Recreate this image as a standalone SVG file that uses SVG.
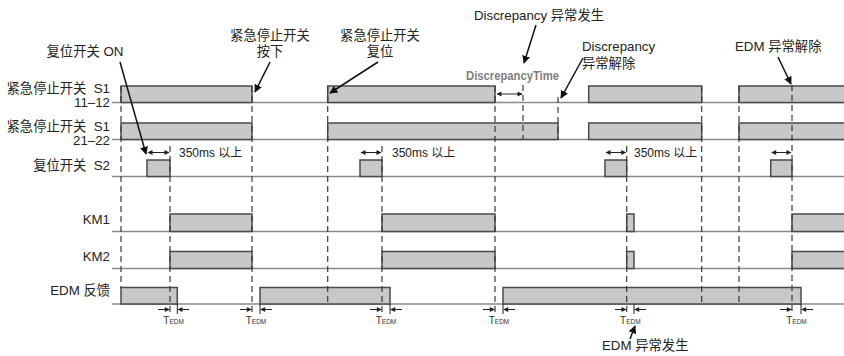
<svg xmlns="http://www.w3.org/2000/svg" width="844" height="356" viewBox="0 0 844 356">
<defs>
<style>
text{font-family:"Liberation Sans","Noto Sans CJK SC",sans-serif;fill:#222;}
.lb{font-size:13.3px;}
.sm{font-size:12px;}
.base{stroke:#8a8a8a;stroke-width:1.4;fill:none;}
.p{fill:#c8c8c8;stroke:#4a4a4a;stroke-width:1.5;}
.d{stroke:#3a3a3a;stroke-width:1.2;stroke-dasharray:6 4;fill:none;}
.a{stroke:#111;stroke-width:1.5;fill:none;marker-end:url(#ah);}
.s{stroke:#222;stroke-width:1;fill:none;}
.sa{stroke:#222;stroke-width:1;fill:none;marker-end:url(#sh);}
.sb{stroke:#222;stroke-width:1;fill:none;marker-start:url(#shs);marker-end:url(#sh);}
.t{font-size:10px;fill:#333;}
</style>
<marker id="ah" viewBox="0 0 10 10" refX="9" refY="5" markerWidth="8" markerHeight="8" markerUnits="userSpaceOnUse" orient="auto"><path d="M0,0 L10,5 L0,10 Z" fill="#111"/></marker>
<marker id="sh" viewBox="0 0 10 10" refX="9" refY="5" markerWidth="6" markerHeight="5" markerUnits="userSpaceOnUse" orient="auto"><path d="M0,0 L10,5 L0,10 Z" fill="#222"/></marker>
<marker id="shs" viewBox="0 0 10 10" refX="1" refY="5" markerWidth="6" markerHeight="5" markerUnits="userSpaceOnUse" orient="auto"><path d="M10,0 L0,5 L10,10 Z" fill="#222"/></marker>
</defs>
<rect width="844" height="356" fill="#fff"/>

<g id="labels">
<text class="lb" x="110" y="93" text-anchor="end" xml:space="preserve">紧急停止开关  S1</text>
<text class="lb" x="110" y="107" text-anchor="end">11–12</text>
<text class="lb" x="110" y="131" text-anchor="end" xml:space="preserve">紧急停止开关  S1</text>
<text class="lb" x="110" y="145" text-anchor="end">21–22</text>
<text class="lb" x="110" y="170" text-anchor="end" xml:space="preserve">复位开关  S2</text>
<text class="lb" x="110" y="224" text-anchor="end">KM1</text>
<text class="lb" x="110" y="261" text-anchor="end">KM2</text>
<text class="lb" x="110" y="295" text-anchor="end">EDM 反馈</text>
</g>

<g id="baselines">
<line class="base" x1="112" y1="102.5" x2="844" y2="102.5"/>
<line class="base" x1="112" y1="139.5" x2="844" y2="139.5"/>
<line class="base" x1="112" y1="176.5" x2="844" y2="176.5"/>
<line class="base" x1="112" y1="231.5" x2="844" y2="231.5"/>
<line class="base" x1="112" y1="268.5" x2="844" y2="268.5"/>
<line class="base" x1="112" y1="304" x2="844" y2="304"/>
</g>

<g id="s1-11-12">
<path class="p" d="M121 102.5 V86 H252 V102.5 Z"/>
<path class="p" d="M327.7 102.5 V86 H495 V102.5 Z"/>
<path class="p" d="M588.7 102.5 V86 H701.7 V102.5 Z"/>
<path class="p" d="M739 102.5 V86 H850 V102.5 Z"/>
</g>
<g id="s1-21-22">
<path class="p" d="M121 139.5 V123 H252 V139.5 Z"/>
<path class="p" d="M327.7 139.5 V123 H558 V139.5 Z"/>
<path class="p" d="M588.7 139.5 V123 H701.7 V139.5 Z"/>
<path class="p" d="M739 139.5 V123 H850 V139.5 Z"/>
</g>
<g id="s2">
<path class="p" d="M147 176.5 V160 H170 V176.5 Z"/>
<path class="p" d="M360 176.5 V160 H382 V176.5 Z"/>
<path class="p" d="M605 176.5 V160 H626.7 V176.5 Z"/>
<path class="p" d="M770.7 176.5 V160 H792 V176.5 Z"/>
</g>
<g id="km1">
<path class="p" d="M170 231.5 V214 H252 V231.5 Z"/>
<path class="p" d="M382 231.5 V214 H495 V231.5 Z"/>
<path class="p" d="M626.7 231.5 V214 H634 V231.5 Z"/>
<path class="p" d="M792 231.5 V214 H850 V231.5 Z"/>
</g>
<g id="km2">
<path class="p" d="M170 268.5 V251.5 H252 V268.5 Z"/>
<path class="p" d="M382 268.5 V251.5 H495 V268.5 Z"/>
<path class="p" d="M626.7 268.5 V251.5 H634 V268.5 Z"/>
<path class="p" d="M792 268.5 V251.5 H850 V268.5 Z"/>
</g>
<g id="edm">
<path class="p" d="M121 304 V287.5 H177.3 V304 Z"/>
<path class="p" d="M260 304 V287.5 H390 V304 Z"/>
<path class="p" d="M503 304 V287.5 H801 V304 Z"/>
</g>

<g id="connectors">
<line class="d" x1="121" y1="86" x2="121" y2="288"/>
<line class="d" x1="170" y1="146" x2="170" y2="314"/>
<line class="d" x1="252" y1="86" x2="252" y2="314"/>
<line class="d" x1="327.7" y1="86" x2="327.7" y2="304"/>
<line class="d" x1="382" y1="146" x2="382" y2="314"/>
<line class="d" x1="495" y1="86" x2="495" y2="314"/>
<line class="d" x1="523" y1="85" x2="523" y2="139.5"/>
<line class="d" x1="558" y1="97" x2="558" y2="139.5"/>
<line class="d" x1="626.7" y1="146" x2="626.7" y2="314"/>
<line class="d" x1="701.7" y1="86" x2="701.7" y2="304"/>
<line class="d" x1="739" y1="86" x2="739" y2="304"/>
<line class="d" x1="792" y1="85" x2="792" y2="314"/>

<line class="a" x1="120" y1="62" x2="146" y2="154"/>
<line class="a" x1="270" y1="62" x2="255" y2="92"/>
<line class="a" x1="378" y1="62" x2="330" y2="93"/>
<line class="a" x1="536" y1="25" x2="524" y2="63"/>
<line class="a" x1="583" y1="58" x2="561" y2="98"/>
<line class="a" x1="778" y1="57" x2="791" y2="84"/>
<line class="a" x1="630" y1="339" x2="635" y2="326"/>

<line class="sb" x1="148" y1="152.5" x2="169" y2="152.5"/>
<line class="sb" x1="361" y1="152.5" x2="381" y2="152.5"/>
<line class="sb" x1="606" y1="152.5" x2="625.7" y2="152.5"/>
<line class="sb" x1="771.7" y1="152.5" x2="791" y2="152.5"/>

<line class="sb" x1="497" y1="94" x2="522" y2="94"/>

<line class="sa" x1="158" y1="309.5" x2="169.3" y2="309.5"/>
<line class="sa" x1="189" y1="309.5" x2="178" y2="309.5"/>
<line class="s" x1="177.3" y1="304" x2="177.3" y2="314"/>
<line class="sa" x1="240" y1="309.5" x2="251.3" y2="309.5"/>
<line class="sa" x1="272" y1="309.5" x2="260.7" y2="309.5"/>
<line class="s" x1="260" y1="304" x2="260" y2="314"/>
<line class="sa" x1="370" y1="309.5" x2="381.3" y2="309.5"/>
<line class="sa" x1="402" y1="309.5" x2="390.7" y2="309.5"/>
<line class="s" x1="390" y1="304" x2="390" y2="314"/>
<line class="sa" x1="483" y1="309.5" x2="494.3" y2="309.5"/>
<line class="sa" x1="515" y1="309.5" x2="503.7" y2="309.5"/>
<line class="s" x1="503" y1="304" x2="503" y2="314"/>
<line class="sa" x1="615" y1="309.5" x2="626" y2="309.5"/>
<line class="sa" x1="646" y1="309.5" x2="634.7" y2="309.5"/>
<line class="s" x1="634" y1="304" x2="634" y2="314"/>
<line class="sa" x1="780" y1="309.5" x2="791.3" y2="309.5"/>
<line class="sa" x1="813" y1="309.5" x2="801.7" y2="309.5"/>
<line class="s" x1="801" y1="304" x2="801" y2="314"/>
</g>

<g id="annotations">
<text class="lb" x="85" y="56" text-anchor="middle">复位开关 ON</text>
<text class="lb" x="270" y="40" text-anchor="middle">紧急停止开关</text>
<text class="lb" x="270" y="56" text-anchor="middle">按下</text>
<text class="lb" x="380" y="40" text-anchor="middle">紧急停止开关</text>
<text class="lb" x="380" y="56" text-anchor="middle">复位</text>
<text class="lb" x="539" y="20" text-anchor="middle">Discrepancy 异常发生</text>
<text x="466" y="80" font-size="12" font-weight="bold" style="fill:#7e7e7e" textLength="93" lengthAdjust="spacingAndGlyphs">DiscrepancyTime</text>
<text class="lb" x="582" y="51">Discrepancy</text>
<text class="lb" x="582" y="68">异常解除</text>
<text class="lb" x="735" y="51">EDM 异常解除</text>
<text class="lb" x="602" y="350">EDM 异常发生</text>
<text class="sm" x="179" y="157">350ms 以上</text>
<text class="sm" x="392" y="157">350ms 以上</text>
<text class="sm" x="634" y="157">350ms 以上</text>
<text class="t" x="173.6" y="324" text-anchor="middle">T<tspan font-size="6.5">EDM</tspan></text>
<text class="t" x="256" y="324" text-anchor="middle">T<tspan font-size="6.5">EDM</tspan></text>
<text class="t" x="386" y="324" text-anchor="middle">T<tspan font-size="6.5">EDM</tspan></text>
<text class="t" x="499" y="324" text-anchor="middle">T<tspan font-size="6.5">EDM</tspan></text>
<text class="t" x="630.3" y="324" text-anchor="middle">T<tspan font-size="6.5">EDM</tspan></text>
<text class="t" x="796.5" y="324" text-anchor="middle">T<tspan font-size="6.5">EDM</tspan></text>
</g>
</svg>
